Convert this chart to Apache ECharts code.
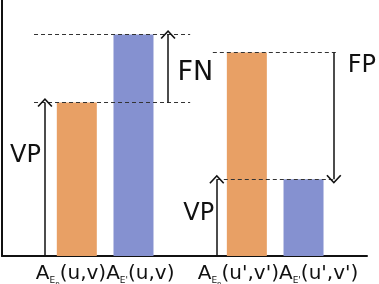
<!DOCTYPE html>
<html>
<head>
<meta charset="utf-8">
<script src="https://cdn.jsdelivr.net/npm/echarts@6/dist/echarts.min.js"></script>
<style>
  html, body { margin: 0; padding: 0; background: #fff; }
  #chart { width: 379px; height: 284px; }
</style>
</head>
<body>
<div id="chart"></div>
<script>
// bar slots on the x axis and bar heights (0..10 scale)
const slots = [1, 2, 4, 5];
const heights = [6.0, 8.65, 7.95, 3.0];
const kinds = ['Ep', 'E\'', 'Ep', 'E\''];
const pairs = ['(u,v)', '(u\',v\')'];
// tick labels sit between the two bars of each pair
const pairTicks = [1.5, 4.55];
// annotation texts and where they sit (data coords)
const notes = [
  { text: 'VP', at: [0.094, 3.93], size: 24 },
  { text: 'FN', at: [3.09, 7.13], size: 27 },
  { text: 'FP', at: [6.03, 7.44], size: 24 },
  { text: 'VP', at: [3.15, 1.66], size: 24 }
];
// dashed guide lines [x1, x2, y]
const guides = [
  [0.245, 3.0, 8.65],
  [0.245, 3.0, 6.0],
  [3.40, 5.59, 7.95],
  [3.47, 5.55, 3.0]
];
// arrows [x, yFrom, yTo]
const arrows = [
  [0.438, 0, 6.0],
  [2.61, 6.0, 8.65],
  [5.535, 7.95, 3.0],
  [3.47, 0, 3.0]
];

const chevron = 'path://M0,8 L7.5,0 L15,8 L13.8,9 L7.5,2.3 L1.2,9 Z';
const font = 'DejaVu Sans';

const chart = echarts.init(document.getElementById('chart'), null, { renderer: 'canvas' });

function pairLabel(i) {
  const p = pairs[i];
  return '{a|A}{s|E}{t|p}{a|' + p + '}{a|A}{s|E\'}{a|' + p + '}';
}

const orange = [], blue = [];
slots.forEach(function (x, i) {
  (kinds[i] === 'Ep' ? orange : blue).push([x, heights[i]]);
});

const option = {
  animation: false,
  grid: { left: 2, right: 12, top: 0, bottom: 28, containLabel: false, outerBoundsMode: 'none' },
  xAxis: {
    type: 'value',
    min: -0.32,
    max: 6.12,
    splitLine: { show: false },
    axisTick: { show: false },
    axisLine: { show: true, onZero: false, lineStyle: { color: '#111', width: 2 } },
    axisLabel: {
      customValues: pairTicks,
      margin: 7,
      formatter: function (v) { return pairLabel(v < 3 ? 0 : 1); },
      rich: {
        a: { fontFamily: font, fontSize: 20, color: '#111', lineHeight: 22 },
        s: { fontFamily: font, fontSize: 9, color: '#111', verticalAlign: 'bottom', lineHeight: 9, padding: [0, 0, 0, 0] },
        t: { fontFamily: font, fontSize: 7, color: '#111', verticalAlign: 'bottom', lineHeight: 7, padding: [0, 0, -3, 0] }
      }
    }
  },
  yAxis: {
    type: 'value',
    min: 0,
    max: 10,
    splitLine: { show: false },
    axisTick: { show: false },
    axisLabel: { show: false },
    axisLine: { show: true, onZero: false, lineStyle: { color: '#111', width: 2 } }
  },
  series: [
    {
      type: 'bar',
      name: 'Ep',
      data: orange,
      barWidth: 40,
      barGap: '-100%',
      itemStyle: { color: '#E8A065' },
      markLine: {
        silent: true,
        symbol: ['none', 'none'],
        label: { show: false },
        lineStyle: { color: '#333', type: [4, 3], width: 1 },
        data: guides.map(function (g) {
          return [{ coord: [g[0], g[2]] }, { coord: [g[1], g[2]] }];
        })
      },
      markPoint: {
        silent: true,
        symbol: 'circle',
        symbolSize: 0,
        data: notes.map(function (n) {
          return {
            coord: n.at,
            label: {
              show: true, position: 'inside', formatter: n.text,
              fontFamily: font, fontSize: n.size, color: '#111'
            }
          };
        })
      }
    },
    {
      type: 'bar',
      name: 'E\'',
      data: blue,
      barWidth: 40,
      barGap: '-100%',
      itemStyle: { color: '#8591D0' },
      markLine: {
        silent: true,
        symbol: ['none', chevron],
        symbolSize: [15, 9],
        label: { show: false },
        lineStyle: { color: '#111', type: 'solid', width: 1.5 },
        data: arrows.map(function (a) {
          return [{ coord: [a[0], a[1]] }, { coord: [a[0], a[2]] }];
        })
      }
    }
  ]
};

chart.setOption(option);
</script>
</body>
</html>
